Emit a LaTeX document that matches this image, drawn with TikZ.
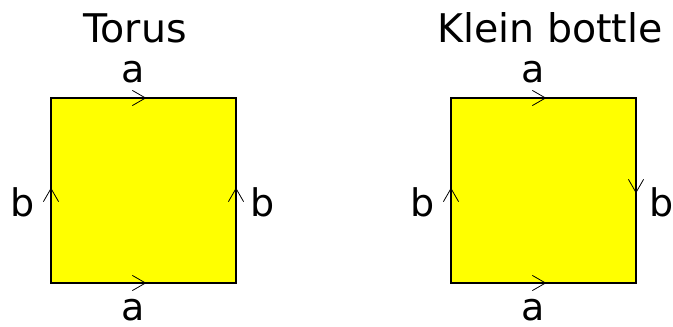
\documentclass[tikz,border=0pt]{standalone}
\usepackage{fontspec}
\setmainfont{DejaVu Sans}
\usetikzlibrary{decorations.markings}
\definecolor{faceyellow}{RGB}{255,255,0}
\begin{document}
\begin{tikzpicture}[x=1pt,y=1pt,
  face/.style={fill=faceyellow,draw=black,line width=1.6pt},
  glue/.style={postaction={decorate},decoration={markings,
      mark=at position 0.5 with {\draw[line width=0.8pt,line cap=round,line join=miter]
        (-11,7.5)--(2,0)--(-11,-7.5);}}},
  lab/.style={font=\fontsize{38}{38}\selectfont,inner sep=0pt,anchor=base,text depth=0pt},
  title/.style={font=\fontsize{39.5}{39.5}\selectfont,inner sep=0pt,anchor=base}]
\useasboundingbox (0,0) rectangle (673,327);
% torus square
\coordinate (t1) at (51,44);  \coordinate (t2) at (236,44);
\coordinate (t3) at (236,229);\coordinate (t4) at (51,229);
\filldraw[face] (t1) rectangle (t3);
\draw[glue] (t4) -- (t3);
\draw[glue] (t1) -- (t2);
\draw[glue] (t1) -- (t4);
\draw[glue] (t2) -- (t3);
\node[title] (ttitle) at (135,284) {Torus};
\node[lab] (ta1) at (133,244) {a};
\node[lab] (ta2) at (133,6) {a};
\node[lab] (tb1) at (23,110) {b};
\node[lab] (tb2) at (263,110) {b};
% Klein bottle square
\coordinate (k1) at (451,44);  \coordinate (k2) at (636,44);
\coordinate (k3) at (636,229); \coordinate (k4) at (451,229);
\filldraw[face] (k1) rectangle (k3);
\draw[glue] (k4) -- (k3);
\draw[glue] (k1) -- (k2);
\draw[glue] (k1) -- (k4);
\draw[glue] (k3) -- (k2);
\node[title] (ktitle) at (550,284) {Klein bottle};
\node[lab] (ka1) at (533,244) {a};
\node[lab] (ka2) at (533,6) {a};
\node[lab] (kb1) at (423,110) {b};
\node[lab] (kb2) at (662,110) {b};
\end{tikzpicture}
\end{document}
